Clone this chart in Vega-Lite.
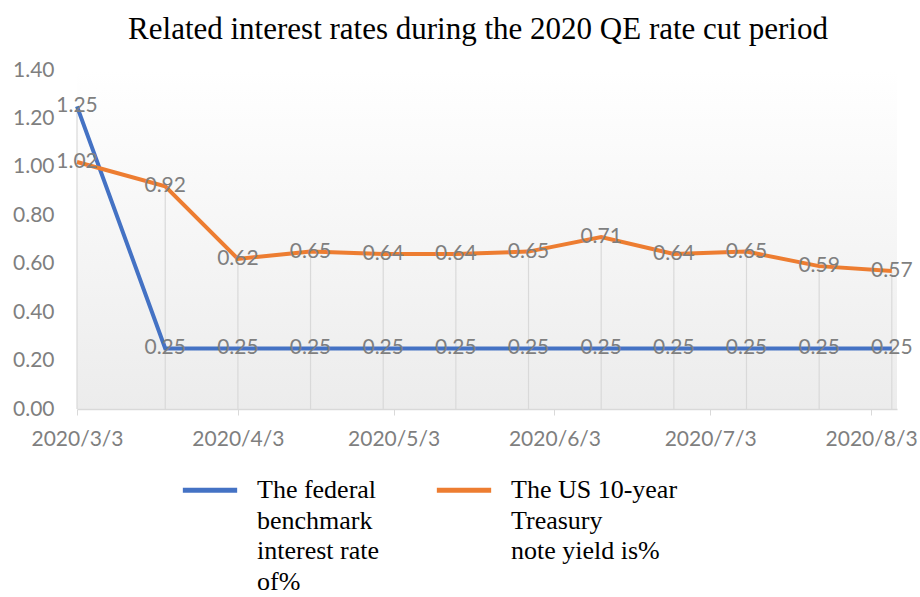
{
  "$schema": "https://vega.github.io/schema/vega-lite/v6.json",
  "width": 820,
  "height": 339,
  "autosize": {"type": "none"},
  "padding": {"left": 77, "top": 70, "right": 23, "bottom": 188},
  "background": "white",
  "title": {
    "text": "Related interest rates during the 2020 QE rate cut period",
    "font": "Liberation Serif",
    "fontSize": 31,
    "fontWeight": "normal",
    "color": "black",
    "anchor": "middle",
    "baseline": "bottom",
    "offset": -18,
    "dx": -9
  },
  "config": {
    "view": {
      "stroke": null,
      "fill": {
        "gradient": "linear",
        "x1": 0, "y1": 0, "x2": 0, "y2": 1,
        "stops": [
          {"offset": 0, "color": "#ffffff"},
          {"offset": 1, "color": "#ececec"}
        ]
      }
    }
  },
  "data": {
    "values": [
      {"date": "2020-03-03", "series": "The federal benchmark interest rate of%", "value": 1.25},
      {"date": "2020-03-20", "series": "The federal benchmark interest rate of%", "value": 0.25},
      {"date": "2020-04-03", "series": "The federal benchmark interest rate of%", "value": 0.25},
      {"date": "2020-04-17", "series": "The federal benchmark interest rate of%", "value": 0.25},
      {"date": "2020-05-01", "series": "The federal benchmark interest rate of%", "value": 0.25},
      {"date": "2020-05-15", "series": "The federal benchmark interest rate of%", "value": 0.25},
      {"date": "2020-05-29", "series": "The federal benchmark interest rate of%", "value": 0.25},
      {"date": "2020-06-12", "series": "The federal benchmark interest rate of%", "value": 0.25},
      {"date": "2020-06-26", "series": "The federal benchmark interest rate of%", "value": 0.25},
      {"date": "2020-07-10", "series": "The federal benchmark interest rate of%", "value": 0.25},
      {"date": "2020-07-24", "series": "The federal benchmark interest rate of%", "value": 0.25},
      {"date": "2020-08-07", "series": "The federal benchmark interest rate of%", "value": 0.25},
      {"date": "2020-03-03", "series": "The US 10-year Treasury note yield is%", "value": 1.02},
      {"date": "2020-03-20", "series": "The US 10-year Treasury note yield is%", "value": 0.92},
      {"date": "2020-04-03", "series": "The US 10-year Treasury note yield is%", "value": 0.62},
      {"date": "2020-04-17", "series": "The US 10-year Treasury note yield is%", "value": 0.65},
      {"date": "2020-05-01", "series": "The US 10-year Treasury note yield is%", "value": 0.64},
      {"date": "2020-05-15", "series": "The US 10-year Treasury note yield is%", "value": 0.64},
      {"date": "2020-05-29", "series": "The US 10-year Treasury note yield is%", "value": 0.65},
      {"date": "2020-06-12", "series": "The US 10-year Treasury note yield is%", "value": 0.71},
      {"date": "2020-06-26", "series": "The US 10-year Treasury note yield is%", "value": 0.64},
      {"date": "2020-07-10", "series": "The US 10-year Treasury note yield is%", "value": 0.65},
      {"date": "2020-07-24", "series": "The US 10-year Treasury note yield is%", "value": 0.59},
      {"date": "2020-08-07", "series": "The US 10-year Treasury note yield is%", "value": 0.57}
    ]
  },
  "encoding": {
    "x": {
      "field": "date",
      "type": "temporal",
      "scale": {"type": "utc", "domain": [{"year": 2020, "month": 3, "date": 3, "utc": true}, {"year": 2020, "month": 8, "date": 8, "utc": true}]},
      "axis": {
        "title": null,
        "values": [
          {"year": 2020, "month": 3, "date": 3, "utc": true},
          {"year": 2020, "month": 4, "date": 3, "utc": true},
          {"year": 2020, "month": 5, "date": 3, "utc": true},
          {"year": 2020, "month": 6, "date": 3, "utc": true},
          {"year": 2020, "month": 7, "date": 3, "utc": true},
          {"year": 2020, "month": 8, "date": 3, "utc": true}
        ],
        "labelExpr": "utcFormat(datum.value, '%Y/%-m/%-d')",
        "grid": false,
        "domainColor": "#d9d9d9",
        "domainWidth": 1.5,
        "tickColor": "#d9d9d9",
        "tickSize": 6,
        "labelPadding": 13,
        "labelFont": "Lato",
        "labelFontSize": 21,
        "labelColor": "#7f7f7f",
        "labelOverlap": false,
        "labelFlush": false
      }
    }
  },
  "layer": [
    {
      "mark": {"type": "rule", "color": "#d9d9d9", "strokeWidth": 1.2},
      "encoding": {
        "y": {"aggregate": "max", "field": "value", "type": "quantitative", "scale": {"domain": [0, 1.4], "nice": false}},
        "y2": {"datum": 0}
      }
    },
    {
      "mark": {"type": "line", "strokeWidth": 4},
      "encoding": {
        "y": {
          "field": "value",
          "type": "quantitative",
          "scale": {"domain": [0, 1.4], "nice": false},
          "axis": {
            "title": null,
            "values": [0, 0.2, 0.4, 0.6, 0.8, 1.0, 1.2, 1.4],
            "format": ".2f",
            "grid": false,
            "domain": false,
            "ticks": false,
            "labelPadding": 23,
            "labelFont": "Lato",
            "labelFontSize": 21,
            "labelColor": "#7f7f7f"
          }
        },
        "color": {
          "field": "series",
          "type": "nominal",
          "scale": {
            "domain": ["The federal benchmark interest rate of%", "The US 10-year Treasury note yield is%"],
            "range": ["#4472C4", "#ED7D31"]
          },
          "legend": {
            "title": null,
            "orient": "none",
            "legendX": 103,
            "legendY": 390,
            "direction": "horizontal",
            "padding": 0,
            "symbolType": "stroke",
            "symbolSize": 2950,
            "symbolStrokeWidth": 5,
            "labelFont": "Liberation Serif",
            "labelFontSize": 26,
            "labelColor": "black",
            "labelLimit": 400,
            "labelOffset": 17,
            "labelBaseline": "top",
            "columnPadding": 40,
            "labelExpr": "datum.label == 'The federal benchmark interest rate of%' ? ['The  federal', 'benchmark', 'interest  rate', 'of%'] : ['The US 10-year', 'Treasury', 'note yield is%', '']",
            "encode": {
              "labels": {
                "update": {
                  "dy": {"value": -13},
                  "lineHeight": {"value": 30.5}
                }
              }
            }
          }
        }
      }
    },
    {
      "mark": {"type": "text", "font": "Lato", "fontSize": 21, "color": "#7f7f7f", "baseline": "middle", "align": "center"},
      "encoding": {
        "y": {"field": "value", "type": "quantitative"},
        "text": {"field": "value", "type": "quantitative", "format": ".2f"}
      }
    }
  ]
}
